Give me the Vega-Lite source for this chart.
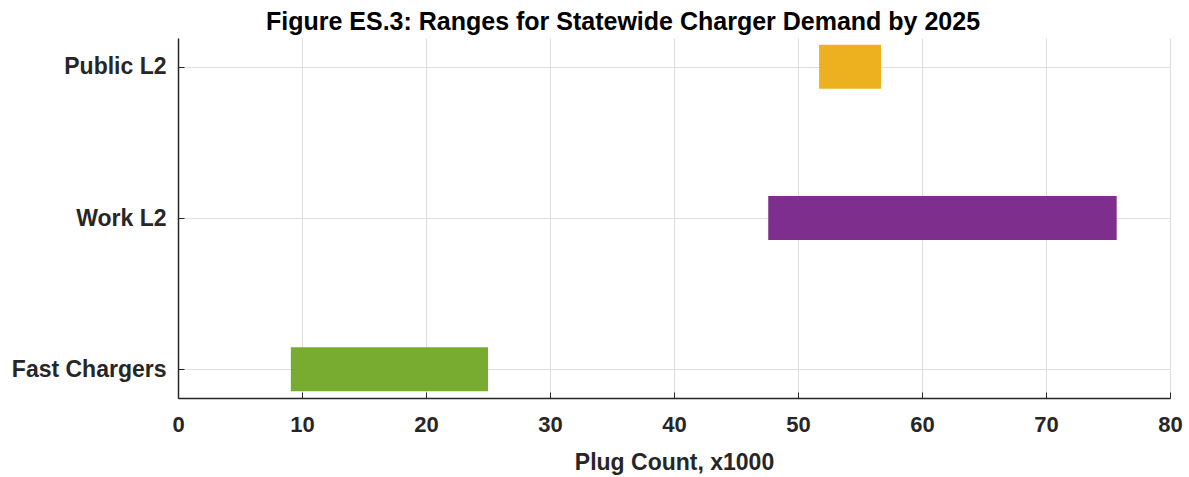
{
  "$schema": "https://vega.github.io/schema/vega-lite/v6.json",
  "autosize": {"type": "none"},
  "width": 992,
  "height": 360,
  "padding": {"left": 178, "top": 38, "right": 19, "bottom": 79},
  "background": "white",
  "title": {
    "text": "Figure ES.3: Ranges for Statewide Charger Demand by 2025",
    "font": "Liberation Sans",
    "fontSize": 25,
    "fontWeight": "bold",
    "color": "#000000",
    "anchor": "middle",
    "dx": -51,
    "offset": 3
  },
  "config": {
    "view": {"stroke": null},
    "axis": {
      "labelFont": "Liberation Sans",
      "titleFont": "Liberation Sans",
      "labelFontWeight": "bold",
      "titleFontWeight": "bold",
      "labelColor": "#262626",
      "titleColor": "#262626",
      "domainColor": "#262626",
      "domainWidth": 1.5,
      "tickColor": "#262626",
      "gridColor": "#dedede",
      "gridWidth": 1
    }
  },
  "data": {
    "values": [
      {"type": "Public L2", "low": 51.7, "high": 56.7},
      {"type": "Work L2", "low": 47.6, "high": 75.7},
      {"type": "Fast Chargers", "low": 9.1, "high": 25.0}
    ]
  },
  "mark": {"type": "bar", "height": 44},
  "encoding": {
    "y": {
      "field": "type",
      "type": "nominal",
      "sort": null,
      "title": null,
      "scale": {"type": "point", "padding": 0.19},
      "axis": {
        "grid": true,
        "labelFontSize": 23,
        "labelPadding": 18,
        "tickSize": -6
      }
    },
    "x": {
      "field": "low",
      "type": "quantitative",
      "title": "Plug Count, x1000",
      "scale": {"domain": [0, 80], "nice": false},
      "axis": {
        "values": [0, 10, 20, 30, 40, 50, 60, 70, 80],
        "grid": true,
        "labelFlush": false,
        "labelFontSize": 22,
        "titleFontSize": 23,
        "labelPadding": 22,
        "titlePadding": 16,
        "tickSize": -6
      }
    },
    "x2": {"field": "high"},
    "color": {
      "field": "type",
      "type": "nominal",
      "legend": null,
      "scale": {
        "domain": ["Public L2", "Work L2", "Fast Chargers"],
        "range": ["#EDB120", "#7E2F8E", "#77AC30"]
      }
    }
  }
}
